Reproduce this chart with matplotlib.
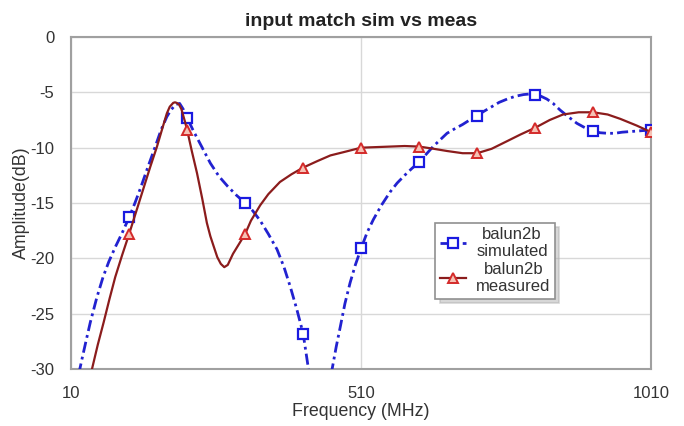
import matplotlib
matplotlib.use("Agg")
import matplotlib.pyplot as plt

plt.rcParams['font.family'] = ['Liberation Sans', 'DejaVu Sans']

# simulated S11 trace (MHz, dB)
sim_freq = [20, 25, 30, 36, 43, 54, 65, 75, 86, 98, 110, 120, 130, 142, 155, 165,
            175, 182, 190, 197, 203, 210, 220, 230, 240, 250, 265, 280, 295, 310,
            323, 336, 350, 365, 377, 388, 399, 410, 420, 430, 450, 460, 467, 474,
            482, 491, 500, 510, 520, 531, 545, 560, 572, 585, 597, 610, 622, 634,
            646, 658, 671, 685, 697, 710, 722, 735, 748, 762, 776, 790, 800, 810,
            820, 830, 841, 853, 867, 882, 896, 910, 922, 935, 947, 960, 972, 985,
            997, 1010]
sim_db = [-32.5, -30.0, -28.8, -27.4, -25.8, -23.6, -21.7, -20.3, -19.0, -17.7,
          -16.3, -15.0, -13.6, -11.8, -9.9, -8.4, -7.2, -6.6, -6.1, -6.0, -6.5,
          -7.3, -8.4, -9.4, -10.4, -11.4, -12.6, -13.5, -14.3, -15.0, -15.7, -16.6,
          -17.8, -19.2, -20.8, -22.6, -24.6, -26.8, -30.3, -33.0, -33.0, -30.0,
          -28.0, -26.2, -24.1, -22.2, -20.6, -19.1, -17.7, -16.5, -15.2, -14.0,
          -13.2, -12.5, -11.9, -11.3, -10.6, -9.9, -9.3, -8.7, -8.3, -7.9, -7.5,
          -7.1, -6.7, -6.3, -5.9, -5.6, -5.35, -5.2, -5.15, -5.2, -5.35, -5.6,
          -6.0, -6.6, -7.2, -7.8, -8.2, -8.5, -8.65, -8.7, -8.7, -8.6, -8.55,
          -8.5, -8.45, -8.4]

# measured S11 trace (MHz, dB)
meas_freq = [30, 38, 46, 56, 66, 76, 86, 98, 110, 122, 134, 146, 158, 167, 175, 180,
             186, 189, 192, 196, 200, 206, 210, 218, 227, 236, 244, 250, 255, 262,
             268, 274, 280, 289, 296, 310, 320, 336, 350, 370, 390, 410, 435, 457,
             480, 510, 535, 560, 585, 610, 635, 658, 685, 710, 735, 762, 785, 810,
             835, 858, 885, 910, 935, 957, 985, 1010]
meas_db = [-33.5, -31.8, -30.0, -27.8, -25.8, -23.7, -21.7, -19.7, -17.8, -15.8,
           -13.8, -11.8, -9.9, -8.3, -6.9, -6.3, -5.95, -5.9, -5.95, -6.1, -6.5,
           -7.6, -8.4, -10.3, -12.3, -14.6, -16.8, -18.0, -18.8, -19.9, -20.5,
           -20.8, -20.6, -19.6, -19.0, -17.8, -16.6, -15.2, -14.2, -13.1, -12.4,
           -11.8, -11.2, -10.7, -10.4, -10.0, -9.95, -9.9, -9.85, -9.9, -10.1,
           -10.3, -10.5, -10.5, -10.1, -9.4, -8.8, -8.2, -7.5, -7.0, -6.8, -6.8,
           -7.0, -7.4, -8.0, -8.6]

# markers sit on every 100 MHz sample
marker_freq = [110, 210, 310, 410, 510, 610, 710, 810, 910, 1010]

sim_marks = [i for i, f in enumerate(sim_freq) if f in marker_freq]
meas_marks = [i for i, f in enumerate(meas_freq) if f in marker_freq]

fig = plt.figure(figsize=(6.84, 4.26), dpi=100)
ax = fig.add_axes([0.104, 0.134, 0.848, 0.779])

ax.plot(sim_freq, sim_db, color='#2222d0', linewidth=2.0,
        linestyle=(0, (4, 1.5, 1, 1.5)), marker='s', markevery=sim_marks,
        markersize=7, markerfacecolor='white', markeredgecolor='#1a1ae0',
        markeredgewidth=1.6, label='balun2b\nsimulated', zorder=3)
ax.plot(meas_freq, meas_db, color='#8b1c1c', linewidth=1.6,
        marker='^', markevery=meas_marks, markersize=7,
        markerfacecolor='#f5c2b5', markeredgecolor='#d42a2a',
        markeredgewidth=1.4, label='balun2b\nmeasured', zorder=4)

ax.set_xlim(10, 1010)
ax.set_ylim(-30, 0)
ax.set_xticks([10, 510, 1010])
ax.set_yticks([0, -5, -10, -15, -20, -25, -30])
ax.set_yticklabels(['0', '-5', '-10', '-15', '-20', '-25', '-30'])
ax.grid(True, color='#d8d8d8', linewidth=1.0)
ax.set_axisbelow(True)
ax.tick_params(length=0, labelsize=12, colors='#333333', pad=12)
for s in ax.spines.values():
    s.set_color('#a0a0a0')
    s.set_linewidth(1.5)

ax.set_title('input match sim vs meas', fontsize=14, fontweight='bold',
             color='#222222', pad=8)
ax.set_xlabel('Frequency (MHz)', fontsize=12.8, color='#333333', labelpad=2)
ax.set_ylabel('Amplitude(dB)', fontsize=12.8, color='#333333', labelpad=0)

leg = ax.legend(loc='upper left', bbox_to_anchor=(0.628, 0.44), fontsize=12,
                frameon=True, fancybox=False, shadow={'color': '#b0b0b0', 'ox': 3, 'oy': -3},
                framealpha=1, handlelength=1.6, handletextpad=0.6, borderpad=0.25,
                labelspacing=0.15, borderaxespad=0)
leg.get_frame().set_edgecolor('#909090')
leg.get_frame().set_linewidth(1.2)
for t in leg.get_texts():
    t.set_color('#333333')
    t.set_horizontalalignment('center')

fig.savefig('out.png', dpi=100, facecolor='white')
